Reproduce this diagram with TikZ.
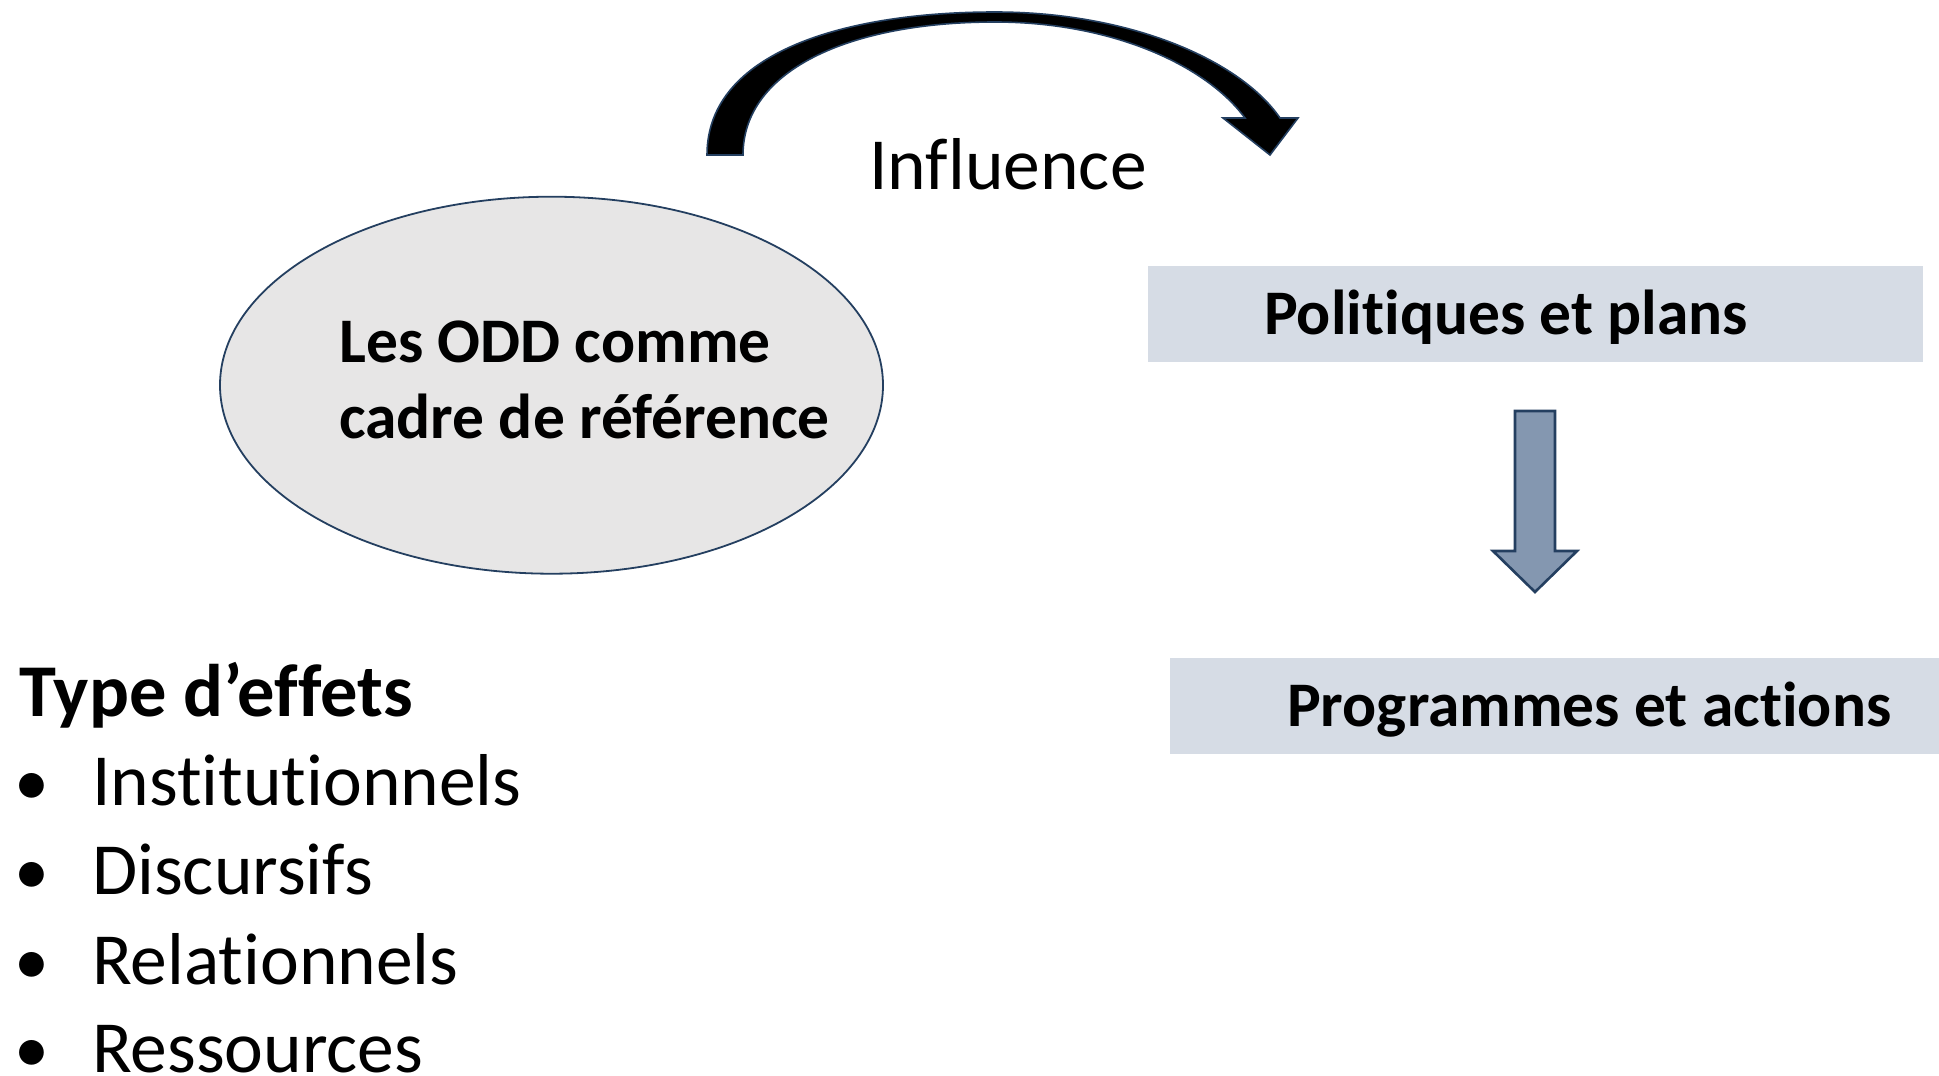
\documentclass[tikz,border=0pt]{standalone}
\usepackage{fontspec}
\setmainfont{Carlito}[RawFeature={-liga}]
\usepackage{tikz}
\usetikzlibrary{shapes.geometric}

\definecolor{shapeline}{HTML}{243F60}
\definecolor{ovalfill}{HTML}{E7E6E6}
\definecolor{boxfill}{HTML}{D6DCE5}
\definecolor{arrowfill}{HTML}{8497B0}

\begin{document}
\begin{tikzpicture}%
        [x=1pt,
        y=-1pt,
        oval/.style={ellipse,draw=shapeline,fill=ovalfill,line width=1.8pt,inner sep=0pt,minimum width=663pt,minimum height=377pt},
        box/.style={rectangle,fill=boxfill,inner sep=0pt,minimum height=96pt,anchor=north west},
        bold/.style={inner sep=0pt,anchor=base west,font=\fontsize{63.5}{77}\selectfont\bfseries},
        title/.style={inner sep=0pt,anchor=base west,font=\fontsize{74.5}{90}\selectfont\bfseries},
        plain/.style={inner sep=0pt,anchor=base west,font=\fontsize{73.5}{89}\selectfont},
        bullet/.style={inner sep=0pt,anchor=base,font=\fontsize{70}{89}\selectfont},
        curvedarrow/.style={fill=black,draw=shapeline,line width=1.6pt,line join=miter},
        downarrow/.style={fill=arrowfill,draw=shapeline,line width=2.6pt,line join=miter}]
    %
    \useasboundingbox (0,0) rectangle (1939,1076);
    %
    %% Drawing the frame of reference
    \node[oval] (odd) at (551.5,385.2) {};
    \node[bold] (odd1) at (339,362) {Les ODD comme};
    \node[bold] (odd2) at (339,438) {cadre de référence};
    %%
    %% Drawing the influence arrow
    \draw[curvedarrow] (707,155) .. controls (707,50) and (850,12) .. (995,12)
        .. controls (1130,12) and (1240,60) .. (1280,118)
        -- (1298,118) -- (1270,155) -- (1223,118) -- (1245,118)
        .. controls (1205,64) and (1110,22) .. (995,22)
        .. controls (850,22) and (743,70) .. (743,155) -- cycle;
    \node[plain] (infl) at (869,189) {Influence};
    %%
    %% Drawing the boxes
    \node[box,minimum width=775pt] (pol) at (1148,266) {};
    \node[bold] (poltext) at (1264,334.5) {Politiques et plans};
    \node[box,minimum width=769pt] (prog) at (1170,658) {};
    \node[bold] (progtext) at (1287,726.5) {Programmes et actions};
    %%
    %% Drawing the down arrow
    \draw[downarrow] (1515,411) -- (1555,411) -- (1555,551) -- (1577,551)
        -- (1535,592) -- (1493,551) -- (1515,551) -- cycle;
    %%
    %% Drawing the list of effects
    \node[title] (type) at (19,716) {Type d’effets};
    \node[bullet] (b1) at (32,805) {•};
    \node[plain] (inst) at (92,805) {Institutionnels};
    \node[bullet] (b2) at (32,894) {•};
    \node[plain] (disc) at (92,894) {Discursifs};
    \node[bullet] (b3) at (32,984) {•};
    \node[plain] (rel) at (92,984) {Relationnels};
    \node[bullet] (b4) at (32,1072) {•};
    \node[plain] (res) at (92,1072) {Ressources};
    %%
\end{tikzpicture}
\end{document}
